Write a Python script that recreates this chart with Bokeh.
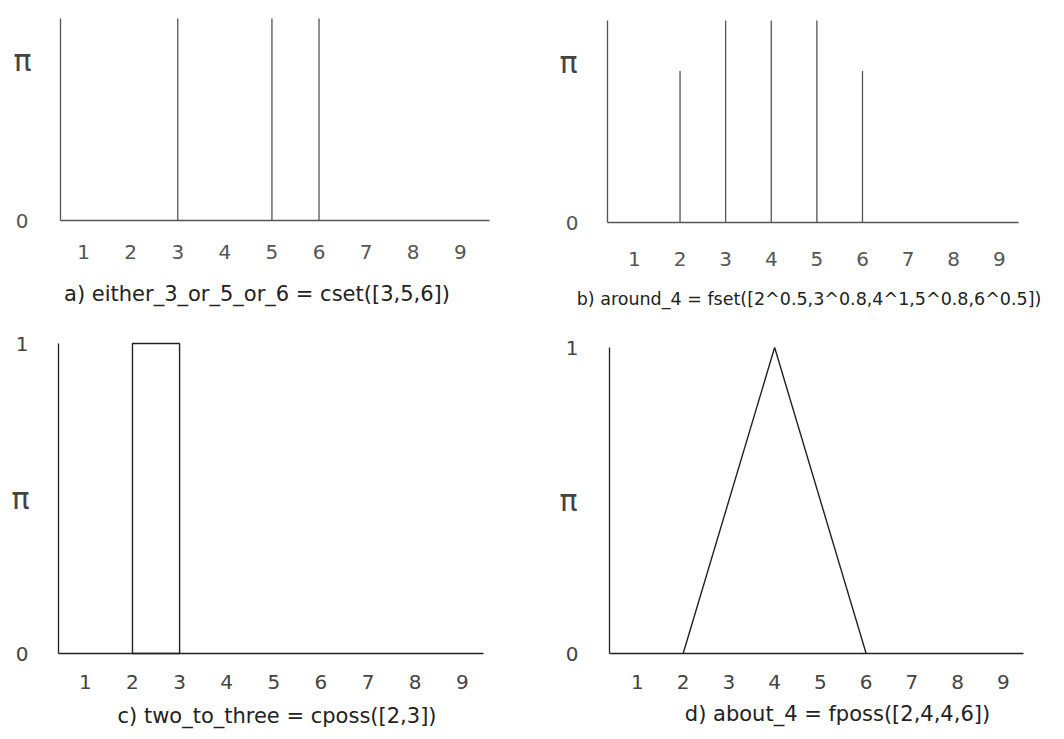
from bokeh.plotting import figure
from bokeh.layouts import column, row
from bokeh.models import FixedTicker, Range1d, Label
from bokeh.embed import file_html
from bokeh.resources import INLINE

# ---- data ----
x_ticks = [1, 2, 3, 4, 5, 6, 7, 8, 9]

a_support = [3, 5, 6]                  # cset([3,5,6])
a_membership = [1.0, 1.0, 1.0]

b_support = [2, 3, 4, 5, 6]            # fset(...) as drawn
b_membership = [0.75, 1.0, 1.0, 1.0, 0.75]

c_interval = [2, 3]                    # cposs([2,3])
c_possibility = [1.0]

d_points = [2, 4, 4, 6]                # fposs([2,4,4,6])
d_possibility = [0.0, 1.0, 1.0, 0.0]

captions = [
    "a) either_3_or_5_or_6 = cset([3,5,6])",
    "b) around_4 = fset([2^0.5,3^0.8,4^1,5^0.8,6^0.5])",
    "c) two_to_three = cposs([2,3])",
    "d) about_4 = fposs([2,4,4,6])",
]
y_title = "π"

FONT = "DejaVu Sans"


def make_panel(w, h, axis_px, right_px, y0_px, y1_px, axis_x, x_end, yticks,
               caption, cap_size, cap_dx, cap_px, xstand, ystand,
               axis_color, label_color, pi_y, pi_dx):
    # layout: the whole figure is the frame; both axes sit at fixed positions
    sx = (right_px - axis_px) / (x_end - axis_x)
    sy = (y0_px - y1_px)
    x_start = axis_x - axis_px / sx
    x_stop = x_end + (w - right_px) / sx
    y_start = -(h - y0_px) / sy
    y_stop = 1 + y1_px / sy

    p = figure(width=w, height=h, x_range=Range1d(x_start, x_stop),
               y_range=Range1d(y_start, y_stop),
               output_backend="svg", toolbar_location=None,
               min_border=0, min_border_left=0, min_border_right=0,
               min_border_top=0, min_border_bottom=0)
    p.grid.visible = False
    p.outline_line_color = None
    p.background_fill_color = "white"
    p.border_fill_color = "white"

    ax = p.xaxis[0]
    ax.fixed_location = 0
    ax.bounds = (axis_x, x_end)
    ax.ticker = FixedTicker(ticks=x_ticks)
    ax.major_tick_line_color = None
    ax.minor_tick_line_color = None
    ax.axis_line_color = axis_color
    ax.axis_line_width = 1.3
    ax.major_label_text_font = FONT
    ax.major_label_text_font_size = "20px"
    ax.major_label_text_color = label_color
    ax.major_label_standoff = xstand

    ay = p.yaxis[0]
    ay.fixed_location = axis_x
    ay.bounds = (0, 1)
    ay.ticker = FixedTicker(ticks=yticks)
    ay.major_tick_line_color = None
    ay.minor_tick_line_color = None
    ay.axis_line_color = axis_color
    ay.axis_line_width = 1.3
    ay.major_label_text_font = FONT
    ay.major_label_text_font_size = "20px"
    ay.major_label_text_color = label_color
    ay.major_label_standoff = ystand

    # y-axis title (horizontal, beside the axis)
    p.add_layout(Label(x=axis_x, y=pi_y, x_offset=pi_dx, text=y_title,
                       text_font=FONT, text_font_size="30px",
                       text_color="#444444", text_align="center",
                       text_baseline="middle"))
    # caption under the axis
    p.add_layout(Label(x=(axis_x + x_end) / 2, y=-(cap_px - y0_px) / sy,
                       x_offset=cap_dx, text=caption,
                       text_font=FONT, text_font_size=cap_size,
                       text_color="#222222", text_align="center",
                       text_baseline="middle"))
    return p


# a) crisp set
pa = make_panel(554, 320, 60, 489, 220, 18, 0.51, 9.62, [0],
                captions[0], "21px", -18, 293, 18, 26,
                "#555555", "#555555", 0.79, -38)
pa.segment(x0=a_support, y0=[0] * len(a_support), x1=a_support, y1=a_membership,
           line_color="#555555", line_width=1.3)

# b) fuzzy set
pb = make_panel(500, 320, 53, 464, 222, 20, 0.41, 9.42, [0],
                captions[1], "17.5px", -4, 298, 23, 23,
                "#555555", "#555555", 0.79, -39)
pb.segment(x0=b_support, y0=[0] * len(b_support), x1=b_support, y1=b_membership,
           line_color="#555555", line_width=1.3)

# c) crisp possibility
pc = make_panel(554, 410, 58, 483, 333, 23, 0.43, 9.45, [0, 1],
                captions[2], "21px", 6, 395, 15, 24,
                "#222222", "#444444", 0.5, -38)
pc.quad(left=[c_interval[0]], right=[c_interval[1]], bottom=[0], top=c_possibility,
        fill_color=None, line_color="#222222", line_width=1.4)

# d) fuzzy possibility
pd = make_panel(500, 410, 55, 469, 333, 27, 0.39, 9.44, [0, 1],
                captions[3], "21px", 21, 393, 15, 25,
                "#222222", "#444444", 0.5, -41)
pd.line(x=d_points, y=d_possibility, line_color="#222222", line_width=1.4)

layout = column(row(pa, pb), row(pc, pd))

with open("out.html", "w") as f:
    f.write(file_html(layout, INLINE))
